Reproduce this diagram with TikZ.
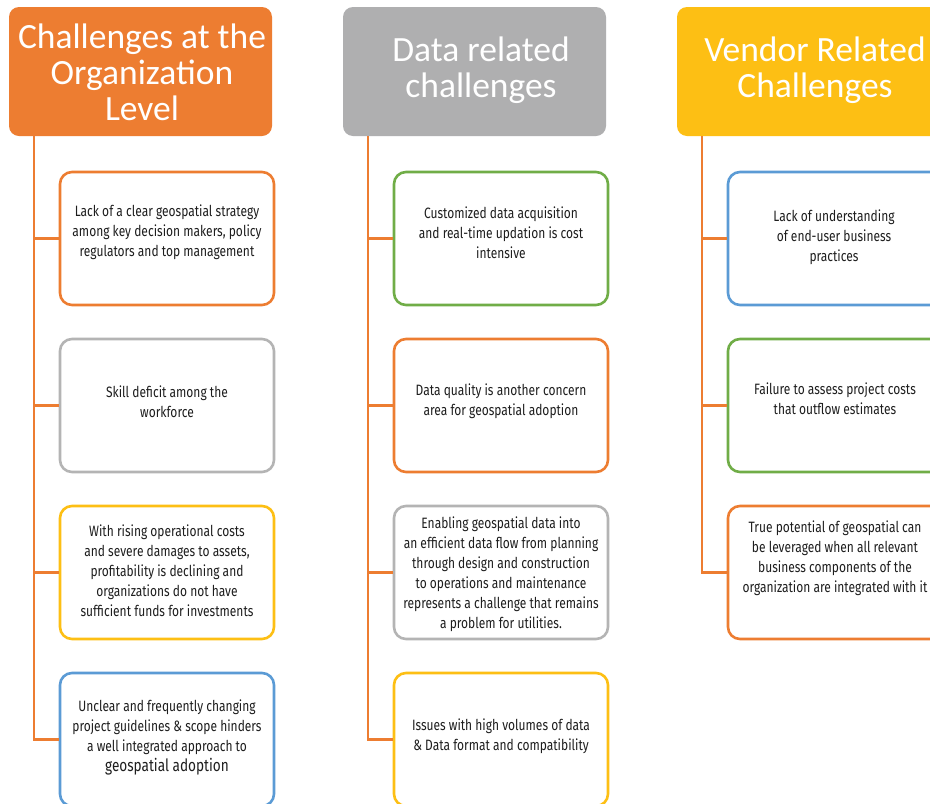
\documentclass[tikz,border=0pt]{standalone}
\usepackage{fontspec}
\setmainfont{Carlito}
\newfontfamily\condfont[FakeStretch=0.80]{Fira Sans}
\definecolor{cOra}{HTML}{ED7D31}
\definecolor{cGry}{HTML}{AFAFB0}
\definecolor{cGryB}{HTML}{B4B4B4}
\definecolor{cYel}{HTML}{FDBF14}
\definecolor{cBlu}{HTML}{5B9BD5}
\definecolor{cGrn}{HTML}{70AD47}
\definecolor{cTxt}{HTML}{1E1E1E}
\tikzset{
  x=1pt, y=-1pt,
  head/.style={fill=#1, draw=none, rounded corners=10pt, minimum width=263pt, minimum height=129pt, inner sep=0pt},
  headtxt/.style={text=white, align=center, font=\fontsize{35.5}{36}\selectfont, inner sep=0pt},
  itembox/.style={draw=#1, line width=2.6pt, rounded corners=12pt, fill=white, minimum width=214pt, minimum height=133pt, inner sep=0pt},
  itemtxt/.style={text=cTxt, align=center, font=\condfont\fontsize{15}{20}\selectfont, inner sep=0pt},
  conn/.style={draw=cOra, line width=2.8pt}
}
\begin{document}
\begin{tikzpicture}
\clip (0,0) rectangle (930,804);
\fill[white] (0,0) rectangle (930,804);
% headers
\node[head=cOra] (h1) at (140.5,71.5) {};
\node[head=cGry] (h2) at (474.5,71.5) {};
\node[head=cYel] (h3) at (808.5,71.5) {};
\node[headtxt] (h1t) at (142,72.5) {Challenges at the\\Organization\\Level};
\node[headtxt] (h2t) at (481,70) {Data related\\challenges};
\node[headtxt] (h3t) at (815,70) {Vendor Related\\Challenges};
% trunk tops
\coordinate (t1) at (34,136);
\coordinate (t2) at (368,136);
\coordinate (t3) at (702,136);
% boxes column 1
\node[itembox=cOra] (b11) at (167,238.5) {};
\node[itembox=cGryB] (b12) at (167,405.5) {};
\node[itembox=cYel] (b13) at (167,572.5) {};
\node[itembox=cBlu] (b14) at (167,739.5) {};
% boxes column 2
\node[itembox=cGrn] (b21) at (501,238.5) {};
\node[itembox=cOra] (b22) at (501,405.5) {};
\node[itembox=cGryB] (b23) at (501,572.5) {};
\node[itembox=cYel] (b24) at (501,739.5) {};
% boxes column 3
\node[itembox=cBlu] (b31) at (835,238.5) {};
\node[itembox=cGrn] (b32) at (835,405.5) {};
\node[itembox=cOra] (b33) at (835,572.5) {};
% connectors
\foreach \t/\b in {t1/b11,t1/b12,t1/b13,t1/b14,t2/b21,t2/b22,t2/b23,t2/b24,t3/b31,t3/b32,t3/b33}{
  \draw[conn] (\t) |- (\b.west);
}
% texts column 1
\node[itemtxt] (x11) at (167,232.5) {Lack of a clear geospatial strategy\\among key decision makers, policy\\regulators and top management};
\node[itemtxt] (x12) at (167,401.5) {Skill deficit among the\\workforce};
\node[itemtxt] (x13) at (167,571) {With rising operational costs\\and severe damages to assets,\\profitability is declining and\\organizations do not have\\sufficient funds for investments};
\node[itemtxt] (x14) at (167,737) {Unclear and frequently changing\\project guidelines \& scope hinders\\a well integrated approach to\\{\fontsize{17}{20}\selectfont geospatial adoption}};
% texts column 2
\node[itemtxt] (x21) at (501,233) {Customized data acquisition\\and real-time updation is cost\\intensive};
\node[itemtxt] (x22) at (501,401.5) {Data quality is another concern\\area for geospatial adoption};
\node[itemtxt] (x23) at (501,574.5) {Enabling geospatial data into\\an efficient data flow from planning\\through design and construction\\to operations and maintenance\\represents a challenge that remains\\a problem for utilities.};
\node[itemtxt] (x24) at (501,736) {Issues with high volumes of data\\\& Data format and compatibility};
% texts column 3
\node[itemtxt] (x31) at (834,237) {Lack of understanding\\of end-user business\\practices};
\node[itemtxt] (x32) at (835,399) {Failure to assess project costs\\that outflow estimates};
\node[itemtxt] (x33) at (835,558) {True potential of geospatial can\\be leveraged when all relevant\\business components of the\\organization are integrated with it};
\end{tikzpicture}
\end{document}
